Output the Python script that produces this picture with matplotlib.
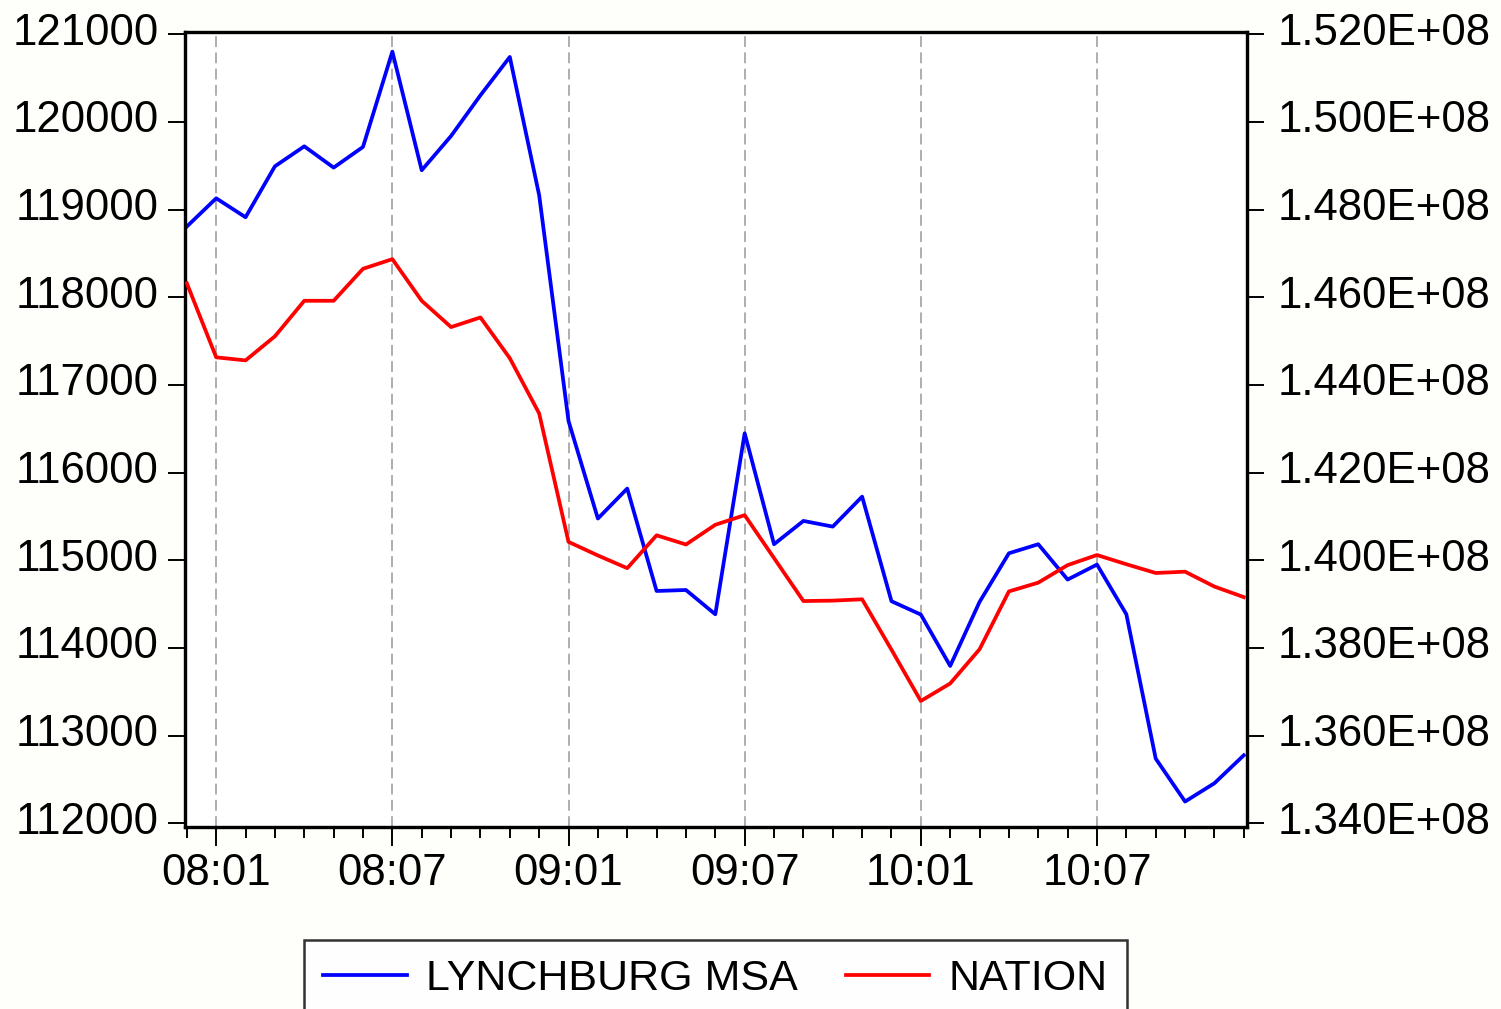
import matplotlib
matplotlib.use("Agg")
import matplotlib.pyplot as plt
import matplotlib.transforms as mtransforms
from matplotlib.ticker import FixedLocator, FuncFormatter
import numpy as np
import pandas as pd

plt.rcParams['font.family'] = ['Liberation Sans', 'DejaVu Sans']

# monthly data, 2007:12 .. 2010:12
months = pd.period_range("2007-12", "2010-12", freq="M")

lynchburg = [118807, 119129, 118913, 119494, 119722, 119479, 119715, 120802,
             119449, 119840, 120304, 120741, 119165, 116589, 115476, 115818,
             114650, 114661, 114384, 116449, 115183, 115449, 115384, 115726,
             114533, 114381, 113795, 114525, 115080, 115183, 114780, 114951,
             114384, 112738, 112248, 112457, 112776]

nation = [146.32, 144.63, 144.56, 145.11, 145.92, 145.92, 146.65, 146.87,
          145.92, 145.32, 145.54, 144.61, 143.35, 140.42, 140.11, 139.82,
          140.57, 140.36, 140.81, 141.03, 140.05, 139.07, 139.08, 139.11,
          137.96, 136.79, 137.19, 137.97, 139.29, 139.49, 139.89, 140.12,
          139.91, 139.71, 139.74, 139.40, 139.16]
nation = [v * 1e6 for v in nation]

left_ticks = [112000, 113000, 114000, 115000, 116000, 117000, 118000, 119000, 120000, 121000]
right_ticks = [1.34e8, 1.36e8, 1.38e8, 1.40e8, 1.42e8, 1.44e8, 1.46e8, 1.48e8, 1.50e8, 1.52e8]

x = np.arange(len(months))
major = [i for i, p in enumerate(months) if p.month in (1, 7)]
major_labels = [f"{p.year % 100:02d}:{p.month:02d}" for p in months if p.month in (1, 7)]

fig = plt.figure(figsize=(15.01, 10.09), dpi=100, facecolor='#fefefb')
ax = fig.add_axes([0.1233, 0.1804, 0.7073, 0.7879])
ax2 = ax.twinx()

l1, = ax.plot(x, lynchburg, color='#0000ff', linewidth=2.7, zorder=3)
l2, = ax2.plot(x, nation, color='#ff0000', linewidth=2.7, zorder=3)

ax.set_xlim(-0.06, 36.1)
ax.set_ylim(111958, 121026)
ax2.set_ylim(1.33916e8, 1.52052e8)

# x axis: minor tick every month, major at Jan / Jul
ax.xaxis.set_major_locator(FixedLocator(major))
ax.xaxis.set_minor_locator(FixedLocator(list(x)))
ax.set_xticklabels(major_labels)
for m in major:
    ax.axvline(m, color='#a8a8a8', linewidth=1.3, linestyle=(0, (6, 3)), zorder=1)

ax.yaxis.set_major_locator(FixedLocator(left_ticks))
ax.yaxis.set_major_formatter(FuncFormatter(lambda v, p: f"{int(round(v))}"))
ax2.yaxis.set_major_locator(FixedLocator(right_ticks))
ax2.yaxis.set_major_formatter(FuncFormatter(lambda v, p: f"{v:.3E}"))

ax.tick_params(axis='x', which='major', direction='out', length=14, width=1.4,
               labelsize=31.5, pad=5)
ax.tick_params(axis='x', which='minor', direction='out', length=8, width=1.4)
ax.tick_params(axis='y', direction='out', length=12, width=1.4, labelsize=31.5, pad=7)
ax2.tick_params(axis='y', direction='out', length=12, width=1.4, labelsize=31.5, pad=10)

# y labels sit a little above their ticks
up = mtransforms.ScaledTranslation(0, 0.055, fig.dpi_scale_trans)
for t in ax.yaxis.get_major_ticks():
    t.label1.set_transform(t.label1.get_transform() + up)
for t in ax2.yaxis.get_major_ticks():
    t.label2.set_transform(t.label2.get_transform() + up)

for a in (ax, ax2):
    for s in a.spines.values():
        s.set_linewidth(2.3)
        s.set_color('black')

leg = fig.legend(handles=[l1, l2],
                 labels=['LYNCHBURG MSA', 'NATION'],
                 loc='upper center', bbox_to_anchor=(0.4767, 0.0684), ncol=2,
                 fontsize=31, frameon=True, fancybox=False, edgecolor='black',
                 handlelength=1.95, handletextpad=0.45, columnspacing=1.1,
                 borderpad=0.45, borderaxespad=0)
leg.get_frame().set_linewidth(1.8)

fig.savefig("out.png", dpi=100, facecolor=fig.get_facecolor())
